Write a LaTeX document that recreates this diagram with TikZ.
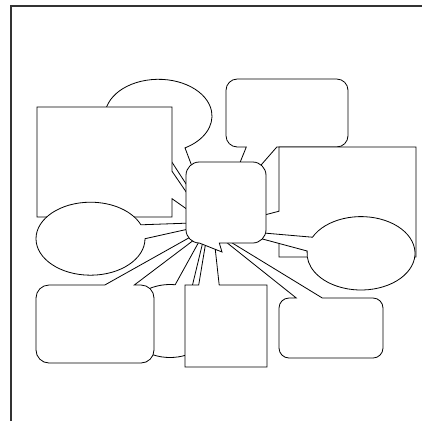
\documentclass[tikz,border=0pt]{standalone}
\usetikzlibrary{calc}
\definecolor{framec}{HTML}{333333}
\tikzset{
  shp/.style={draw=black, fill=white, line width=0.8pt, line join=miter},
  framel/.style={draw=framec, line width=2pt}
}
\begin{document}
\begin{tikzpicture}[x=1pt,y=-1pt]
\useasboundingbox (0,0) rectangle (422,421);
\fill[white] (0,0) rectangle (422,421);
\draw[framel] (11,421) -- (11,6) -- (422,6);
% pointer tips (all hidden behind the central callout)
\coordinate (tE1) at (216,230);
\coordinate (tA)  at (208,224);
\coordinate (tE2) at (220,222);
\coordinate (tB)  at (220,212);
\coordinate (tD)  at (230,224);
\coordinate (tE3) at (229,230);
\coordinate (tE4) at (206,229);
\coordinate (tF)  at (219,221);
\coordinate (tG)  at (211,211);
\coordinate (tH)  at (211,230);
\coordinate (tC)  at (222,252);
% top ellipse
\draw[shp] (tE1) -- ($(158.5,116)+(82.4:53.5 and 36.7)$)
  arc[start angle=82.4, end angle=420.3, x radius=53.5, y radius=36.7] -- cycle;
% top-left rectangle
\draw[shp] (37,107) -- (172,107) -- (172,171.2) -- (tA) -- (172,198.7) -- (172,217) -- (37,217) -- cycle;
% left ellipse
\draw[shp] (tE2) -- ($(90.5,238.7)+(0:54.5 and 36.5)$)
  arc[start angle=0, end angle=337.6, x radius=54.5, y radius=36.5] -- cycle;
% top-right rounded rectangle
\draw[shp] (226,90.3) arc[start angle=180,end angle=270,radius=11.3] -- (336.7,79)
  arc[start angle=270,end angle=360,radius=11.3] -- (348,135.7)
  arc[start angle=0,end angle=90,radius=11.3] -- (276.8,147) -- (tB) -- (246.3,147) -- (237.3,147)
  arc[start angle=90,end angle=180,radius=11.3] -- cycle;
% right rectangle
\draw[shp] (279,147) -- (416,147) -- (416,257) -- (279,257) -- (279,238.7) -- (tD) -- (279,211.2) -- cycle;
% right ellipse
\draw[shp] (tE3) -- ($(361,253.3)+(206:54 and 36.7)$)
  arc[start angle=206, end angle=543.6, x radius=54, y radius=36.7] -- cycle;
% bottom middle ellipse
\draw[shp] (tE4) -- ($(170,321)+(-61.4:45 and 36.5)$)
  arc[start angle=-61.4, end angle=276.6, x radius=45, y radius=36.5] -- cycle;
% bottom-left rounded rectangle
\draw[shp] (36,298) arc[start angle=180,end angle=270,radius=13] -- (104.8,285) -- (tF) -- (134.3,285) -- (141,285)
  arc[start angle=270,end angle=360,radius=13] -- (154,350)
  arc[start angle=0,end angle=90,radius=13] -- (49,363)
  arc[start angle=90,end angle=180,radius=13] -- cycle;
% bottom square
\draw[shp] (185,285) -- (198.7,285) -- (tG) -- (219.2,285) -- (267,285) -- (267,367) -- (185,367) -- cycle;
% bottom-right rounded rectangle
\draw[shp] (279,308) arc[start angle=180,end angle=270,radius=10] -- (296.3,298) -- (tH) -- (322.3,298) -- (373,298)
  arc[start angle=270,end angle=360,radius=10] -- (383,348)
  arc[start angle=0,end angle=90,radius=10] -- (289,358)
  arc[start angle=90,end angle=180,radius=10] -- cycle;
% central rounded callout
\draw[shp] (186,175.3) arc[start angle=180,end angle=270,radius=13.3] -- (252.7,162)
  arc[start angle=270,end angle=360,radius=13.3] -- (266,229.7)
  arc[start angle=0,end angle=90,radius=13.3] -- (219.3,243) -- (tC) -- (199.3,243)
  arc[start angle=90,end angle=180,radius=13.3] -- cycle;
\end{tikzpicture}
\end{document}
